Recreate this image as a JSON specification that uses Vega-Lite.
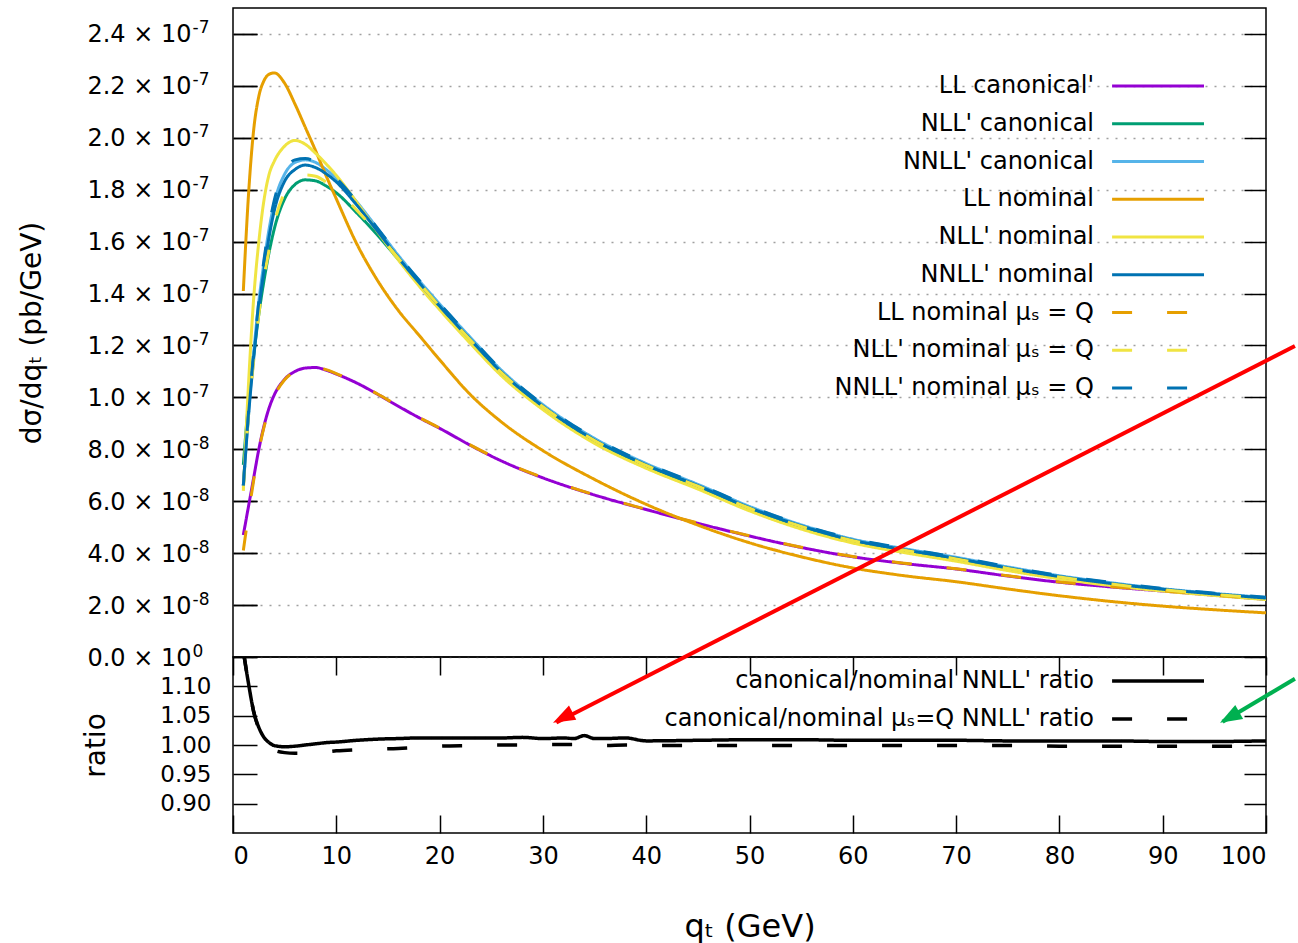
{
 "$schema": "https://vega.github.io/schema/vega-lite/v6.json",
 "background": "white",
 "padding": {"left": 18, "top": 7, "right": 0, "bottom": 0},
 "bounds": "flush",
 "spacing": 0,
 "resolve": {"scale": {"color": "independent", "strokeDash": "independent"}, "legend": {"color": "independent", "strokeDash": "independent"}},
 "config": {
  "view": {"stroke": "black", "strokeWidth": 1.5},
  "font": "DejaVu Sans",
  "text": {"font": "DejaVu Sans"},
  "axis": {"labelFont": "DejaVu Sans", "titleFont": "DejaVu Sans", "labelColor": "black", "titleColor": "black", "titleFontWeight": "normal", "tickColor": "black", "tickWidth": 1.5, "domain": false, "labelFontSize": 23, "titleFontSize": 28}
 },
 "datasets": {
  "names": [
   {"key": "a", "series": "LL canonical'"},
   {"key": "b", "series": "NLL' canonical"},
   {"key": "c", "series": "NNLL' canonical"},
   {"key": "d", "series": "LL nominal"},
   {"key": "e", "series": "NLL' nominal"},
   {"key": "f", "series": "NNLL' nominal"},
   {"key": "g", "series": "LL nominal μₛ = Q"},
   {"key": "h", "series": "NLL' nominal μₛ = Q"},
   {"key": "i", "series": "NNLL' nominal μₛ = Q"}
  ],
  "rnames": [
   {"key": "r1", "series": "canonical/nominal NNLL' ratio"},
   {"key": "r2", "series": "canonical/nominal μₛ=Q NNLL' ratio"}
  ],
  "curves": [
   {"x": 1, "a": 0.47e-7, "b": 0.74e-7, "c": 0.66e-7, "d": 1.41e-7, "e": 0.64e-7, "f": 0.66e-7, "g": 0.41e-7, "h": 0.65e-7, "i": 0.66e-7},
   {"x": 1.5, "a": 0.58e-7, "b": 0.98e-7, "c": 0.94e-7, "d": 1.78e-7, "e": 1.05e-7, "f": 0.93e-7, "g": 0.55e-7, "h": 0.93e-7, "i": 0.94e-7},
   {"x": 2, "a": 0.69e-7, "b": 1.16e-7, "c": 1.17e-7, "d": 2.03e-7, "e": 1.38e-7, "f": 1.15e-7, "g": 0.68e-7, "h": 1.14e-7, "i": 1.17e-7},
   {"x": 2.5, "a": 0.80e-7, "b": 1.32e-7, "c": 1.37e-7, "d": 2.16e-7, "e": 1.60e-7, "f": 1.34e-7, "g": 0.795e-7, "h": 1.32e-7, "i": 1.37e-7},
   {"x": 3, "a": 0.89e-7, "b": 1.45e-7, "c": 1.52e-7, "d": 2.22e-7, "e": 1.76e-7, "f": 1.49e-7, "g": 0.885e-7, "h": 1.46e-7, "i": 1.53e-7},
   {"x": 3.5, "a": 0.96e-7, "b": 1.56e-7, "c": 1.65e-7, "d": 2.245e-7, "e": 1.86e-7, "f": 1.62e-7, "g": 0.955e-7, "h": 1.57e-7, "i": 1.66e-7},
   {"x": 4, "a": 1.01e-7, "b": 1.65e-7, "c": 1.75e-7, "d": 2.25e-7, "e": 1.91e-7, "f": 1.72e-7, "g": 1.005e-7, "h": 1.67e-7, "i": 1.76e-7},
   {"x": 5, "a": 1.07e-7, "b": 1.765e-7, "c": 1.86e-7, "d": 2.21e-7, "e": 1.968e-7, "f": 1.833e-7, "g": 1.068e-7, "h": 1.79e-7, "i": 1.87e-7},
   {"x": 6, "a": 1.10e-7, "b": 1.82e-7, "c": 1.905e-7, "d": 2.13e-7, "e": 1.99e-7, "f": 1.878e-7, "g": 1.10e-7, "h": 1.84e-7, "i": 1.915e-7},
   {"x": 7, "a": 1.113e-7, "b": 1.838e-7, "c": 1.915e-7, "d": 2.04e-7, "e": 1.975e-7, "f": 1.895e-7, "g": 1.115e-7, "h": 1.857e-7, "i": 1.92e-7},
   {"x": 8, "a": 1.115e-7, "b": 1.834e-7, "c": 1.905e-7, "d": 1.95e-7, "e": 1.94e-7, "f": 1.885e-7, "g": 1.117e-7, "h": 1.852e-7, "i": 1.907e-7},
   {"x": 9, "a": 1.105e-7, "b": 1.815e-7, "c": 1.878e-7, "d": 1.855e-7, "e": 1.90e-7, "f": 1.862e-7, "g": 1.107e-7, "h": 1.83e-7, "i": 1.879e-7},
   {"x": 10, "a": 1.09e-7, "b": 1.788e-7, "c": 1.843e-7, "d": 1.765e-7, "e": 1.855e-7, "f": 1.83e-7, "g": 1.092e-7, "h": 1.80e-7, "i": 1.844e-7},
   {"x": 12, "a": 1.055e-7, "b": 1.71e-7, "c": 1.752e-7, "d": 1.59e-7, "e": 1.75e-7, "f": 1.74e-7, "g": 1.056e-7, "h": 1.72e-7, "i": 1.753e-7},
   {"x": 14, "a": 1.012e-7, "b": 1.625e-7, "c": 1.65e-7, "d": 1.45e-7, "e": 1.638e-7, "f": 1.64e-7, "g": 1.013e-7, "h": 1.632e-7, "i": 1.651e-7},
   {"x": 16, "a": 0.966e-7, "b": 1.532e-7, "c": 1.547e-7, "d": 1.335e-7, "e": 1.53e-7, "f": 1.538e-7, "g": 0.967e-7, "h": 1.536e-7, "i": 1.548e-7},
   {"x": 18, "a": 0.922e-7, "b": 1.44e-7, "c": 1.451e-7, "d": 1.24e-7, "e": 1.43e-7, "f": 1.443e-7, "g": 0.923e-7, "h": 1.442e-7, "i": 1.452e-7},
   {"x": 20, "a": 0.881e-7, "b": 1.35e-7, "c": 1.36e-7, "d": 1.145e-7, "e": 1.338e-7, "f": 1.352e-7, "g": 0.882e-7, "h": 1.351e-7, "i": 1.361e-7},
   {"x": 23, "a": 0.815e-7, "b": 1.218e-7, "c": 1.23e-7, "d": 1.01e-7, "e": 1.207e-7, "f": 1.222e-7, "g": 0.816e-7, "h": 1.22e-7, "i": 1.231e-7},
   {"x": 26, "a": 0.755e-7, "b": 1.093e-7, "c": 1.104e-7, "d": 0.905e-7, "e": 1.083e-7, "f": 1.097e-7, "g": 0.756e-7, "h": 1.095e-7, "i": 1.105e-7},
   {"x": 30, "a": 0.69e-7, "b": 0.962e-7, "c": 0.972e-7, "d": 0.795e-7, "e": 0.953e-7, "f": 0.966e-7, "g": 0.691e-7, "h": 0.964e-7, "i": 0.973e-7},
   {"x": 35, "a": 0.624e-7, "b": 0.832e-7, "c": 0.842e-7, "d": 0.684e-7, "e": 0.823e-7, "f": 0.836e-7, "g": 0.625e-7, "h": 0.834e-7, "i": 0.843e-7},
   {"x": 40, "a": 0.568e-7, "b": 0.736e-7, "c": 0.745e-7, "d": 0.588e-7, "e": 0.727e-7, "f": 0.74e-7, "g": 0.569e-7, "h": 0.738e-7, "i": 0.746e-7},
   {"x": 45, "a": 0.515e-7, "b": 0.656e-7, "c": 0.665e-7, "d": 0.508e-7, "e": 0.647e-7, "f": 0.66e-7, "g": 0.516e-7, "h": 0.658e-7, "i": 0.666e-7},
   {"x": 50, "a": 0.466e-7, "b": 0.571e-7, "c": 0.58e-7, "d": 0.44e-7, "e": 0.563e-7, "f": 0.575e-7, "g": 0.467e-7, "h": 0.573e-7, "i": 0.581e-7},
   {"x": 55, "a": 0.422e-7, "b": 0.501e-7, "c": 0.509e-7, "d": 0.386e-7, "e": 0.493e-7, "f": 0.505e-7, "g": 0.423e-7, "h": 0.503e-7, "i": 0.51e-7},
   {"x": 60, "a": 0.386e-7, "b": 0.446e-7, "c": 0.454e-7, "d": 0.343e-7, "e": 0.439e-7, "f": 0.45e-7, "g": 0.387e-7, "h": 0.448e-7, "i": 0.455e-7},
   {"x": 65, "a": 0.36e-7, "b": 0.409e-7, "c": 0.417e-7, "d": 0.313e-7, "e": 0.402e-7, "f": 0.413e-7, "g": 0.361e-7, "h": 0.411e-7, "i": 0.418e-7},
   {"x": 70, "a": 0.339e-7, "b": 0.376e-7, "c": 0.384e-7, "d": 0.29e-7, "e": 0.369e-7, "f": 0.38e-7, "g": 0.34e-7, "h": 0.378e-7, "i": 0.385e-7},
   {"x": 75, "a": 0.312e-7, "b": 0.339e-7, "c": 0.347e-7, "d": 0.262e-7, "e": 0.333e-7, "f": 0.343e-7, "g": 0.313e-7, "h": 0.341e-7, "i": 0.348e-7},
   {"x": 80, "a": 0.288e-7, "b": 0.306e-7, "c": 0.313e-7, "d": 0.236e-7, "e": 0.301e-7, "f": 0.31e-7, "g": 0.289e-7, "h": 0.308e-7, "i": 0.314e-7},
   {"x": 85, "a": 0.27e-7, "b": 0.279e-7, "c": 0.286e-7, "d": 0.214e-7, "e": 0.275e-7, "f": 0.283e-7, "g": 0.271e-7, "h": 0.281e-7, "i": 0.287e-7},
   {"x": 90, "a": 0.254e-7, "b": 0.257e-7, "c": 0.263e-7, "d": 0.196e-7, "e": 0.254e-7, "f": 0.261e-7, "g": 0.255e-7, "h": 0.259e-7, "i": 0.264e-7},
   {"x": 95, "a": 0.238e-7, "b": 0.239e-7, "c": 0.245e-7, "d": 0.182e-7, "e": 0.237e-7, "f": 0.243e-7, "g": 0.239e-7, "h": 0.241e-7, "i": 0.246e-7},
   {"x": 100, "a": 0.222e-7, "b": 0.223e-7, "c": 0.229e-7, "d": 0.17e-7, "e": 0.221e-7, "f": 0.227e-7, "g": 0.223e-7, "h": 0.225e-7, "i": 0.23e-7}
  ],
  "ratios": [
   {"x": 1, "r1": 1.16, "r2": 1.16},
   {"x": 1.5, "r1": 1.105, "r2": 1.105},
   {"x": 2, "r1": 1.057, "r2": 1.057},
   {"x": 2.5, "r1": 1.03, "r2": 1.028},
   {"x": 3, "r1": 1.013, "r2": 1.008},
   {"x": 3.5, "r1": 1.004, "r2": 0.996},
   {"x": 4, "r1": 0.999, "r2": 0.991},
   {"x": 5, "r1": 0.997, "r2": 0.987},
   {"x": 6, "r1": 0.998, "r2": 0.986},
   {"x": 7, "r1": 1.0, "r2": 0.986},
   {"x": 8, "r1": 1.002, "r2": 0.987},
   {"x": 9, "r1": 1.004, "r2": 0.988},
   {"x": 10, "r1": 1.005, "r2": 0.99},
   {"x": 12, "r1": 1.008, "r2": 0.992},
   {"x": 14, "r1": 1.01, "r2": 0.993},
   {"x": 16, "r1": 1.011, "r2": 0.994},
   {"x": 18, "r1": 1.012, "r2": 0.996},
   {"x": 20, "r1": 1.012, "r2": 0.998},
   {"x": 23, "r1": 1.012, "r2": 0.999},
   {"x": 26, "r1": 1.012, "r2": 1.0},
   {"x": 28, "r1": 1.013, "r2": 1.0},
   {"x": 30, "r1": 1.011, "r2": 1.001},
   {"x": 32, "r1": 1.012, "r2": 1.001},
   {"x": 33, "r1": 1.011, "r2": 1.001},
   {"x": 34, "r1": 1.016, "r2": 1.0},
   {"x": 35, "r1": 1.011, "r2": 1.0},
   {"x": 36, "r1": 1.011, "r2": 0.999},
   {"x": 38, "r1": 1.012, "r2": 1.0},
   {"x": 40, "r1": 1.007, "r2": 0.999},
   {"x": 45, "r1": 1.008, "r2": 0.999},
   {"x": 50, "r1": 1.009, "r2": 0.999},
   {"x": 55, "r1": 1.009, "r2": 0.999},
   {"x": 60, "r1": 1.008, "r2": 0.999},
   {"x": 65, "r1": 1.008, "r2": 0.999},
   {"x": 70, "r1": 1.008, "r2": 0.999},
   {"x": 75, "r1": 1.007, "r2": 0.999},
   {"x": 80, "r1": 1.007, "r2": 0.998},
   {"x": 85, "r1": 1.007, "r2": 0.998},
   {"x": 90, "r1": 1.006, "r2": 0.998},
   {"x": 95, "r1": 1.006, "r2": 0.998},
   {"x": 100, "r1": 1.007, "r2": 0.998}
  ]
 },
 "vconcat": [
  {
   "width": 1033,
   "height": 649,
   "layer": [
    {
     "data": {"name": "curves"},
     "transform": [
      {"fold": ["a", "b", "c", "d", "e", "f", "g", "h", "i"], "as": ["key", "y"]},
      {"lookup": "key", "from": {"data": {"name": "names"}, "key": "key", "fields": ["series"]}}
     ],
     "mark": {"type": "line", "strokeWidth": 3, "clip": true, "interpolate": "monotone"},
     "encoding": {
      "x": {"field": "x", "type": "quantitative", "scale": {"domain": [0, 100], "nice": false}, "axis": null},
      "y": {"field": "y", "type": "quantitative", "scale": {"domain": [0, 2.5e-7], "nice": false},
       "axis": {"values": [0, 2e-8, 4e-8, 6e-8, 8e-8, 1e-7, 1.2e-7, 1.4e-7, 1.6e-7, 1.8e-7, 2e-7, 2.2e-7, 2.4e-7],
        "labelExpr": "(datum.value == 0 ? '0.0' : (datum.value < 9.9e-8 ? format(datum.value * 1e8, '.1f') : format(datum.value * 1e7, '.1f'))) + ' × 10'",
        "tickSize": -24, "labelPadding": 66, "labelFontSize": 24, "labelOffset": 1,
        "grid": true, "gridDash": [2, 7], "gridColor": "#a0a0a0", "gridWidth": 1.3,
        "title": "dσ/dqₜ (pb/GeV)", "titlePadding": 40}},
      "color": {"field": "series", "type": "nominal",
       "scale": {"domain": ["LL canonical'", "NLL' canonical", "NNLL' canonical", "LL nominal", "NLL' nominal", "NNLL' nominal", "LL nominal μₛ = Q", "NLL' nominal μₛ = Q", "NNLL' nominal μₛ = Q"],
        "range": ["#9400d3", "#009e73", "#56b4e9", "#e69f00", "#f0e442", "#0072b2", "#e69f00", "#f0e442", "#0072b2"]},
       "legend": null},
      "strokeDash": {"field": "series", "type": "nominal",
       "scale": {"domain": ["LL canonical'", "NLL' canonical", "NNLL' canonical", "LL nominal", "NLL' nominal", "NNLL' nominal", "LL nominal μₛ = Q", "NLL' nominal μₛ = Q", "NNLL' nominal μₛ = Q"],
        "range": [[1, 0], [1, 0], [1, 0], [1, 0], [1, 0], [1, 0], [20, 35], [20, 35], [20, 35]]},
       "legend": null}
     }
    },
    {
     "data": {"values": []},
     "mark": {"type": "point", "opacity": 0},
     "encoding": {
      "x": {"field": "x", "type": "quantitative", "scale": {"domain": [0, 100], "nice": false}, "axis": null},
      "y": {"field": "y", "type": "quantitative", "scale": {"domain": [0, 2.5e-7], "nice": false},
       "axis": {"orient": "right", "values": [0, 2e-8, 4e-8, 6e-8, 8e-8, 1e-7, 1.2e-7, 1.4e-7, 1.6e-7, 1.8e-7, 2e-7, 2.2e-7, 2.4e-7], "labels": false, "tickSize": -22, "grid": false, "title": null}}
     }
    },
    {
     "data": {"values": []},
     "mark": {"type": "point", "opacity": 0},
     "encoding": {
      "x": {"field": "x", "type": "quantitative", "scale": {"domain": [0, 100], "nice": false}, "axis": null},
      "y": {"field": "y", "type": "quantitative", "scale": {"domain": [0, 2.5e-7], "nice": false},
       "axis": {"orient": "left", "values": [0, 2e-8, 4e-8, 6e-8, 8e-8, 1e-7, 1.2e-7, 1.4e-7, 1.6e-7, 1.8e-7, 2e-7, 2.2e-7, 2.4e-7],
        "labelExpr": "datum.value == 0 ? '0' : (datum.value < 9.9e-8 ? '-8' : '-7')",
        "labelAlign": "left", "labelPadding": 65, "labelFontSize": 17, "labelOffset": -6, "tickSize": -24, "grid": false, "title": null}}
     }
    },
    {
     "data": {"name": "names"},
     "mark": {"type": "rule", "strokeWidth": 3},
     "encoding": {
      "x": {"datum": 85.1, "type": "quantitative", "axis": null},
      "x2": {"datum": 94.0},
      "y": {"field": "series", "type": "nominal", "axis": null,
       "scale": {"type": "point", "padding": 0, "range": [78, 380], "domain": ["LL canonical'", "NLL' canonical", "NNLL' canonical", "LL nominal", "NLL' nominal", "NNLL' nominal", "LL nominal μₛ = Q", "NLL' nominal μₛ = Q", "NNLL' nominal μₛ = Q"]}},
      "color": {"field": "series", "type": "nominal", "legend": null},
      "strokeDash": {"field": "series", "type": "nominal", "legend": null}
     }
    },
    {
     "data": {"name": "names"},
     "mark": {"type": "text", "align": "right", "baseline": "middle", "fontSize": 24, "color": "black", "font": "DejaVu Sans"},
     "encoding": {
      "x": {"datum": 83.35, "type": "quantitative", "axis": null},
      "y": {"field": "series", "type": "nominal", "axis": null,
       "scale": {"type": "point", "padding": 0, "range": [78, 380], "domain": ["LL canonical'", "NLL' canonical", "NNLL' canonical", "LL nominal", "NLL' nominal", "NNLL' nominal", "LL nominal μₛ = Q", "NLL' nominal μₛ = Q", "NNLL' nominal μₛ = Q"]}},
      "text": {"field": "series"}
     }
    }
   ],
   "resolve": {"scale": {"y": "independent"}, "axis": {"y": "independent"}}
  },
  {
   "width": 1033,
   "height": 176,
   "layer": [
    {
     "data": {"name": "ratios"},
     "transform": [
      {"fold": ["r1", "r2"], "as": ["key", "y"]},
      {"lookup": "key", "from": {"data": {"name": "rnames"}, "key": "key", "fields": ["series"]}}
     ],
     "mark": {"type": "line", "strokeWidth": 3.5, "clip": true, "interpolate": "monotone"},
     "encoding": {
      "x": {"field": "x", "type": "quantitative", "scale": {"domain": [0, 100], "nice": false},
       "axis": {"values": [0, 10, 20, 30, 40, 50, 60, 70, 80, 90, 100], "tickSize": -18, "labelPadding": 29, "labelFontSize": 24, "grid": false, "title": "qₜ (GeV)", "titleFontSize": 32, "titlePadding": 43}},
      "y": {"field": "y", "type": "quantitative", "scale": {"domain": [0.85, 1.15], "nice": false, "zero": false},
       "axis": {"values": [0.9, 0.95, 1.0, 1.05, 1.1], "format": ".2f", "tickSize": -24, "labelPadding": 46, "labelFontSize": 23, "grid": false, "title": "ratio", "titlePadding": 49}},
      "color": {"field": "series", "type": "nominal",
       "scale": {"domain": ["canonical/nominal NNLL' ratio", "canonical/nominal μₛ=Q NNLL' ratio"], "range": ["black", "black"]},
       "legend": null},
      "strokeDash": {"field": "series", "type": "nominal",
       "scale": {"domain": ["canonical/nominal NNLL' ratio", "canonical/nominal μₛ=Q NNLL' ratio"], "range": [[1, 0], [20, 35]]},
       "legend": null}
     }
    },
    {
     "data": {"values": []},
     "mark": {"type": "point", "opacity": 0},
     "encoding": {
      "x": {"field": "x", "type": "quantitative", "scale": {"domain": [0, 100], "nice": false},
       "axis": {"orient": "top", "values": [0, 10, 20, 30, 40, 50, 60, 70, 80, 90, 100], "labels": false, "tickSize": -18, "grid": false, "title": null}},
      "y": {"field": "y", "type": "quantitative", "scale": {"domain": [0.85, 1.15], "nice": false, "zero": false},
       "axis": {"orient": "right", "values": [0.9, 0.95, 1.0, 1.05, 1.1], "labels": false, "tickSize": -22, "grid": false, "title": null}}
     }
    },
    {
     "data": {"name": "rnames"},
     "mark": {"type": "rule", "strokeWidth": 3.5},
     "encoding": {
      "x": {"datum": 85.1, "type": "quantitative", "axis": null},
      "x2": {"datum": 94.0},
      "y": {"field": "series", "type": "nominal", "axis": null,
       "scale": {"type": "point", "padding": 0, "range": [24, 62], "domain": ["canonical/nominal NNLL' ratio", "canonical/nominal μₛ=Q NNLL' ratio"]}},
      "color": {"field": "series", "type": "nominal", "legend": null},
      "strokeDash": {"field": "series", "type": "nominal", "legend": null}
     }
    },
    {
     "data": {"name": "rnames"},
     "mark": {"type": "text", "align": "right", "baseline": "middle", "fontSize": 24, "color": "black", "font": "DejaVu Sans"},
     "encoding": {
      "x": {"datum": 83.35, "type": "quantitative", "axis": null},
      "y": {"field": "series", "type": "nominal", "axis": null,
       "scale": {"type": "point", "padding": 0, "range": [24, 62], "domain": ["canonical/nominal NNLL' ratio", "canonical/nominal μₛ=Q NNLL' ratio"]}},
      "text": {"field": "series"}
     }
    },
    {
     "data": {"values": [{}]},
     "mark": {"type": "rule", "color": "#ff0000", "strokeWidth": 4, "clip": false},
     "encoding": {
      "x": {"datum": 102.8, "type": "quantitative", "axis": null},
      "y": {"datum": 1.68, "type": "quantitative", "scale": {"domain": [0.85, 1.15], "nice": false, "zero": false}, "axis": null},
      "x2": {"datum": 31.3},
      "y2": {"datum": 1.0385}
     }
    },
    {
     "data": {"values": [{}]},
     "mark": {"type": "rule", "color": "#00b050", "strokeWidth": 4, "clip": false},
     "encoding": {
      "x": {"datum": 102.8, "type": "quantitative", "axis": null},
      "y": {"datum": 1.113, "type": "quantitative", "scale": {"domain": [0.85, 1.15], "nice": false, "zero": false}, "axis": null},
      "x2": {"datum": 95.8},
      "y2": {"datum": 1.0395}
     }
    },
    {
     "data": {"values": [{}]},
     "mark": {"type": "point", "shape": "M0,0L-0.8,2.2L0.8,2.2Z", "filled": true, "color": "#ff0000", "opacity": 1, "size": 400, "angle": 243, "strokeWidth": 0, "clip": false},
     "encoding": {
      "x": {"datum": 30.98, "type": "quantitative", "axis": null},
      "y": {"datum": 1.038, "type": "quantitative", "scale": {"domain": [0.85, 1.15], "nice": false, "zero": false}, "axis": null}
     }
    },
    {
     "data": {"values": [{}]},
     "mark": {"type": "point", "shape": "M0,0L-0.8,2.2L0.8,2.2Z", "filled": true, "color": "#00b050", "opacity": 1, "size": 400, "angle": 240.6, "strokeWidth": 0, "clip": false},
     "encoding": {
      "x": {"datum": 95.55, "type": "quantitative", "axis": null},
      "y": {"datum": 1.038, "type": "quantitative", "scale": {"domain": [0.85, 1.15], "nice": false, "zero": false}, "axis": null}
     }
    }
   ],
   "resolve": {"scale": {"y": "independent"}, "axis": {"x": "independent", "y": "independent"}}
  }
 ]
}
